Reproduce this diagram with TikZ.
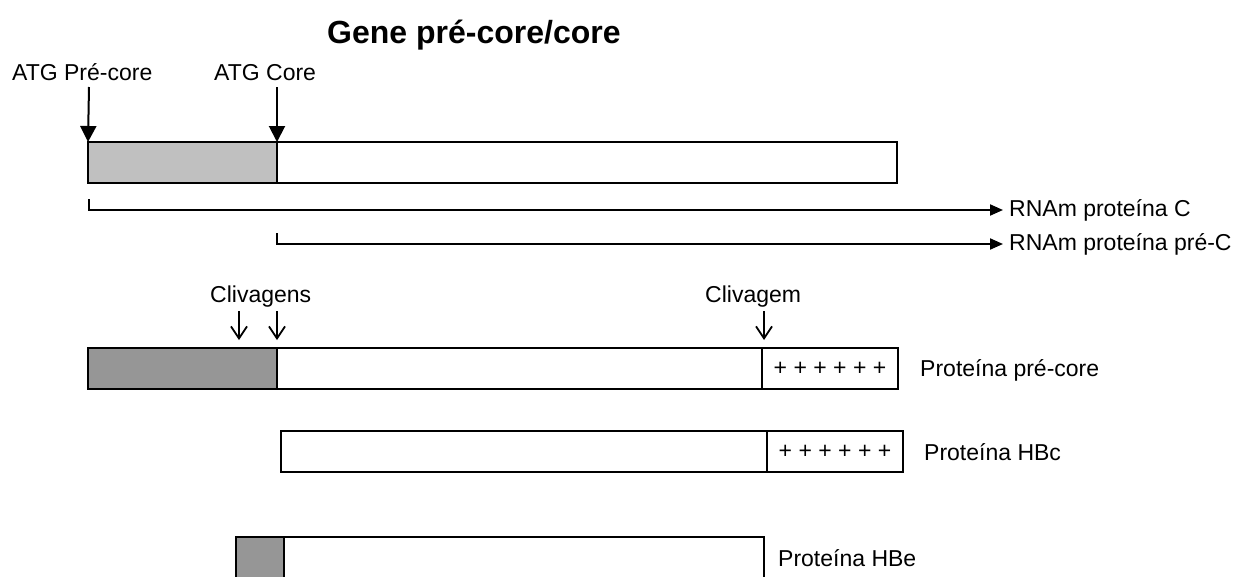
\documentclass[tikz,border=0pt]{standalone}
\usepackage{fontspec}
\setmainfont{Liberation Sans}
\usetikzlibrary{arrows.meta}
\definecolor{lgray}{HTML}{C0C0C0}
\definecolor{dgray}{HTML}{969696}
\begin{document}
\begin{tikzpicture}[x=1pt,y=-1pt,
  bar/.style={draw=black, line width=2.2pt, fill=white, minimum height=41pt, inner sep=0pt, outer sep=0pt, anchor=north west},
  lbl/.style={font=\fontsize{23}{27}\selectfont, inner sep=0pt},
  plustxt/.style={font=\fontsize{23}{27}\selectfont},
  atgarrow/.style={line width=2pt, -{Triangle[length=16pt,width=16pt]}},
  clvarrow/.style={line width=1.8pt, -{Straight Barb[length=12pt,width=16pt,line width=1.8pt]}},
  rnaarrow/.style={line width=2pt, -{Triangle[length=13pt,width=11pt]}}]
\useasboundingbox (0,0) rectangle (1258,576);
% title
\node[font=\fontsize{32}{36}\selectfont\bfseries, inner sep=0pt, anchor=base west] (title) at (327,43) {Gene pré-core/core};
% gene bar
\node[bar, fill=lgray, minimum width=189pt] (g1) at (88,142) {};
\node[bar, minimum width=620pt] (g2) at (277,142) {};
% ATG labels and arrows
\node[lbl, anchor=base west] (atg1) at (12,80) {ATG Pré-core};
\node[lbl, anchor=base west] (atg2) at (214,80) {ATG Core};
\coordinate (a1) at (89,87);
\coordinate (a2) at (277,87);
\draw[atgarrow] (a1) -- (g1.north west);
\draw[atgarrow] (a2) -- (g2.north west);
% RNA lines
\coordinate (r1) at (89,199);
\coordinate (r2) at (277,233);
\node[lbl, anchor=west, inner xsep=6pt] (rna1) at (1003,210) {RNAm proteína C};
\node[lbl, anchor=west, inner xsep=6pt] (rna2) at (1003,244) {RNAm proteína pré-C};
\draw[rnaarrow] (r1) |- (rna1.west);
\draw[rnaarrow] (r2) |- (rna2.west);
% pre-core protein
\node[bar, fill=dgray, minimum width=189pt] (p1) at (88,348) {};
\node[bar, minimum width=485pt] (p2) at (277,348) {};
\node[bar, minimum width=136pt, plustxt] (p3) at (762,348) {+ + + + + +};
\node[lbl, anchor=base west] (pl) at (920,376) {Proteína pré-core};
% cleavage labels/arrows
\node[lbl, anchor=base west] (clv) at (210,302) {Clivagens};
\node[lbl, anchor=base west] (clv2) at (705,302) {Clivagem};
\coordinate (c1) at (239,311);
\coordinate (c2) at (277,311);
\coordinate (c3) at (764,311);
\coordinate (c1e) at (239,340);
\coordinate (c2e) at (277,340);
\coordinate (c3e) at (764,340);
\draw[clvarrow] (c1) -- (c1e);
\draw[clvarrow] (c2) -- (c2e);
\draw[clvarrow] (c3) -- (c3e);
% HBc
\node[bar, minimum width=486pt] (h1) at (281,431) {};
\node[bar, minimum width=136pt, plustxt] (h2) at (767,431) {+ + + + + +};
\node[lbl, anchor=base west] (hl) at (924,460) {Proteína HBc};
% HBe
\node[bar, fill=dgray, minimum width=48pt] (e1) at (236,537) {};
\node[bar, minimum width=480pt] (e2) at (284,537) {};
\node[lbl, anchor=base west] (el) at (778,566) {Proteína HBe};
\end{tikzpicture}
\end{document}
